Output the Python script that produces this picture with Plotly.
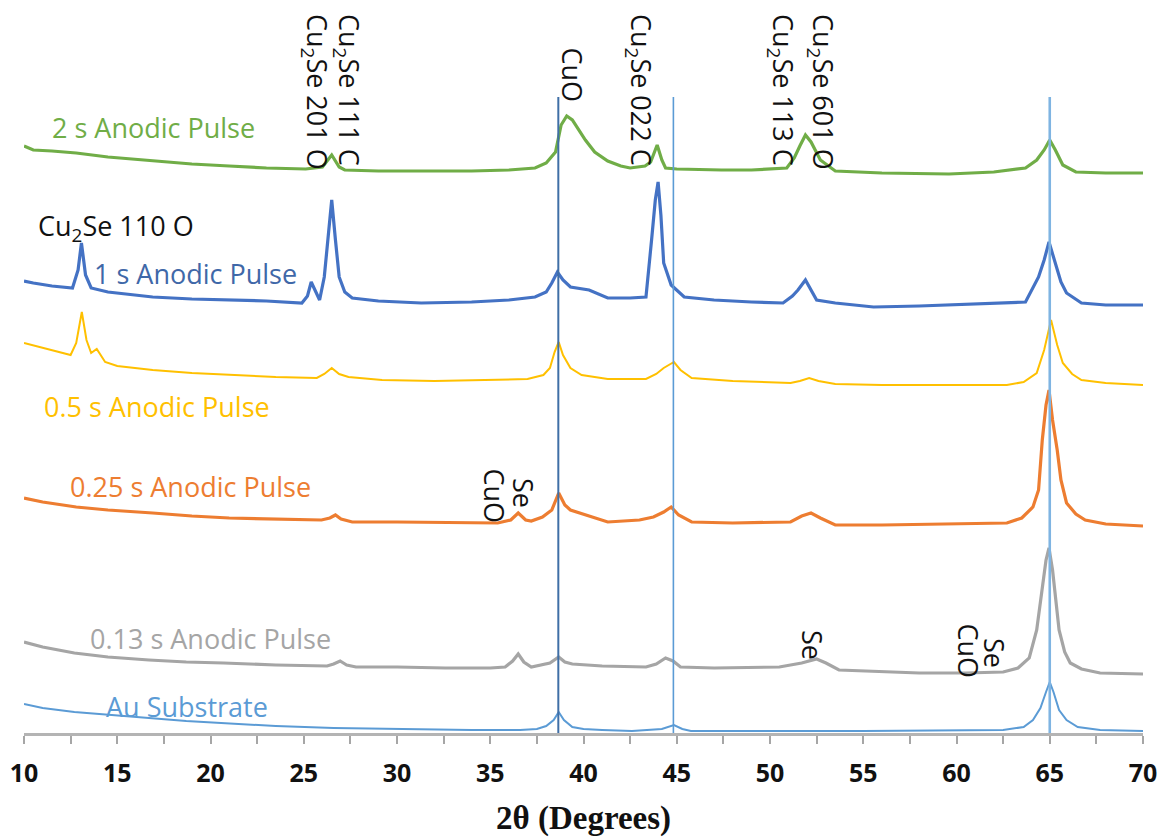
import plotly.graph_objects as go

# ---------------- data (2θ in degrees, stacked intensity in arbitrary units) ----------------
green_x = [10.0, 10.5, 11.5, 12.8, 14.5, 16.9, 19.0, 21.0, 23.0, 25.1, 26.0, 26.5, 26.9, 27.2, 29.0, 31.3,
           34.0, 36.0, 37.4, 38.0, 38.5, 38.8, 39.1, 39.4, 40.1, 40.6, 41.3, 42.0, 42.5, 43.3, 43.6, 43.95,
           44.2, 44.4, 45.0, 47.4, 49.0, 50.9, 51.3, 51.6, 51.9, 52.2, 52.7, 53.5, 56.0, 59.6, 62.0, 63.7,
           64.3, 64.7, 65.0, 65.3, 65.7, 66.4, 68.0, 70.0]
green_y = [587, 583, 582, 580, 576, 572, 569, 567, 565, 564, 566, 578, 566, 563, 562, 562,
           562, 563, 565, 570, 581, 608, 617, 613, 593, 581, 572, 567, 565, 567, 571, 588,
           573, 565, 564, 563, 563, 565, 575, 587, 598, 591, 573, 562, 560, 559, 561, 565,
           573, 583, 593, 583, 568, 561, 560, 560]

blue_x = [10.0, 10.5, 11.5, 12.6, 12.9, 13.08, 13.3, 13.6, 14.5, 16.9, 19.0, 21.0, 23.0, 24.9, 25.2, 25.4,
          25.65, 25.85, 26.1, 26.3, 26.5, 26.7, 26.9, 27.2, 27.6, 29.0, 31.3, 34.0, 36.0, 37.4, 38.0, 38.3,
          38.6, 38.9, 39.3, 40.3, 41.3, 42.5, 43.35, 43.65, 43.85, 44.0, 44.15, 44.3, 44.7, 45.4, 47.0, 49.0,
          50.7, 51.2, 51.5, 51.9, 52.2, 52.5, 53.5, 55.55, 58.0, 61.0, 63.7, 64.4, 64.7, 64.96, 65.3, 65.6,
          65.9, 66.7, 68.0, 70.0]
blue_y = [452, 450, 447, 445, 463, 490, 458, 445, 441, 436, 434, 433, 432, 430, 437, 451,
          441, 433, 456, 493, 533, 493, 456, 441, 435, 432, 430, 431, 433, 436, 441, 450,
          461, 453, 446, 443, 435, 435, 436, 493, 533, 551, 518, 470, 448, 436, 433, 431,
          430, 437, 443, 453, 443, 433, 430, 426, 427, 429, 431, 456, 473, 491, 470, 451,
          440, 430, 428, 428]

yellow_x = [10.0, 11.0, 12.0, 12.5, 12.8, 13.1, 13.35, 13.6, 13.9, 14.35, 15.0, 16.9, 19.0, 21.0, 23.5, 25.7,
            26.1, 26.5, 26.9, 27.4, 29.2, 32.0, 35.4, 37.0, 37.85, 38.2, 38.45, 38.67, 38.9, 39.3, 39.9, 41.3,
            43.35, 43.9, 44.3, 44.85, 45.2, 45.8, 48.0, 51.1, 51.6, 52.1, 52.6, 53.5, 56.0, 59.0, 62.7, 63.6,
            64.3, 64.7, 65.07, 65.4, 65.7, 66.2, 66.7, 68.0, 70.0]
yellow_y = [390, 385, 380, 378, 390, 421, 393, 380, 384, 371, 367, 363, 360, 358, 356, 355,
            359, 365, 359, 356, 353, 352, 353, 354, 358, 365, 381, 391, 378, 365, 358, 354,
            354, 359, 365, 371, 363, 355, 352, 350, 352, 355, 352, 349, 348, 348, 348, 351,
            360, 383, 413, 388, 370, 359, 353, 350, 348]

orange_x = [10.0, 11.0, 12.8, 14.5, 16.9, 19.0, 21.0, 23.5, 25.95, 26.4, 26.7, 27.0, 27.6, 30.0, 33.0, 35.4,
            36.1, 36.5, 36.9, 37.2, 37.8, 38.3, 38.67, 39.0, 39.3, 40.7, 41.3, 43.0, 43.75, 44.3, 44.7, 45.1,
            45.8, 48.0, 51.1, 51.7, 52.2, 52.7, 53.5, 56.0, 59.0, 62.7, 63.5, 64.1, 64.4, 64.6, 64.8, 64.96,
            65.15, 65.4, 65.6, 65.9, 66.4, 66.9, 68.0, 70.0]
orange_y = [235, 231, 226, 223, 220, 217, 215, 214, 213, 215, 218, 214, 211, 211, 210, 210,
            213, 220, 213, 212, 216, 223, 240, 228, 223, 215, 211, 213, 216, 221, 226, 218,
            211, 210, 211, 217, 220, 215, 208, 208, 209, 210, 215, 226, 243, 293, 328, 343,
            313, 283, 253, 230, 219, 213, 209, 207]

gray_x = [10.0, 11.0, 12.7, 14.5, 16.7, 18.7, 20.7, 23.5, 26.25, 26.6, 26.95, 27.3, 27.8, 30.0, 32.6, 35.0,
          35.8, 36.2, 36.5, 36.8, 37.2, 37.8, 38.2, 38.67, 39.0, 39.4, 41.0, 43.35, 43.9, 44.4, 44.8, 45.2,
          47.0, 50.5, 51.2, 51.7, 52.5, 53.0, 53.7, 56.0, 58.0, 60.5, 62.5, 63.3, 63.9, 64.3, 64.6, 64.8,
          64.96, 65.15, 65.5, 65.8, 66.1, 66.7, 67.7, 69.0, 70.0]
gray_y = [91, 86, 80, 76, 73, 71, 70, 68, 67, 69, 72, 68, 66, 66, 65, 65,
          66, 72, 79, 71, 66, 68, 70, 76, 71, 69, 67, 66, 69, 75, 72, 66,
          65, 66, 68, 70, 74, 70, 63, 61, 60, 60, 61, 65, 75, 103, 143, 173,
          185, 163, 103, 81, 70, 64, 60, 59, 59]

au_x = [10.0, 11.0, 12.7, 14.5, 16.7, 18.7, 20.7, 23.5, 26.6, 30.0, 34.0, 36.6, 37.5, 38.0, 38.4, 38.67,
        38.95, 39.4, 40.0, 41.0, 42.6, 44.2, 44.85, 45.3, 45.76, 48.0, 55.0, 62.5, 63.6, 64.1, 64.5, 64.8,
        65.0, 65.2, 65.5, 65.9, 66.5, 67.7, 70.0]
au_y = [29, 25, 21, 18, 15, 12, 10, 7, 5, 4, 3, 3, 4, 7, 13, 21,
        13, 6, 4, 3, 2, 4, 8, 4, 2, 2, 2, 3, 6, 13, 25, 41,
        51, 41, 23, 13, 6, 3, 2]

ref_lines_x = [38.65, 44.82, 65.0]
ref_line_top = 636
ref_line_colors = ["#3f6fa6", "#5b9bd5", "#7fb4e2"]
ref_line_widths = [2, 1.6, 2.6]

x_ticks = [10, 15, 20, 25, 30, 35, 40, 45, 50, 55, 60, 65, 70]

series = [
    ("Au Substrate", au_x, au_y, "#5b9bd5", 2),
    ("0.13 s", gray_x, gray_y, "#a5a5a5", 3.2),
    ("0.25 s", orange_x, orange_y, "#ed7d31", 3.2),
    ("0.5 s", yellow_x, yellow_y, "#ffc000", 2),
    ("1 s", blue_x, blue_y, "#4472c4", 3.2),
    ("2 s", green_x, green_y, "#70ad47", 3.2),
]

fig = go.Figure()
for name, xs, ys, col, w in series:
    fig.add_trace(go.Scatter(x=xs, y=ys, mode="lines", name=name,
                             line=dict(color=col, width=w), hoverinfo="skip"))

for xv, col, w in zip(ref_lines_x, ref_line_colors, ref_line_widths):
    fig.add_trace(go.Scatter(x=[xv, xv], y=[0, ref_line_top], mode="lines",
                             line=dict(color=col, width=w), hoverinfo="skip"))

LBL = "Open Sans"
FS = 27

def px2x(px):
    return 10 + (px - 24) / 18.65

def py2y(py):
    return 733 - py

ann = []
for text, px, py, col in [
    ("2 s Anodic Pulse", 50, 127, "#70ad47"),
    ("Cu<sub>2</sub>Se 110 O", 36, 227, "#111111"),
    ("1 s Anodic Pulse", 92, 273, "#3f68a8"),
    ("0.5 s Anodic Pulse", 42, 406, "#ffc000"),
    ("0.25 s Anodic Pulse", 68, 486, "#ed7d31"),
    ("0.13 s Anodic Pulse", 88, 638, "#a5a5a5"),
    ("Au Substrate", 104, 706, "#5b9bd5"),
]:
    ann.append(dict(x=px2x(px), y=py2y(py), xref="x", yref="y", text=text, showarrow=False,
                    xanchor="left", yanchor="middle",
                    font=dict(family=LBL, size=FS, color=col)))

for text, px, py in [
    ("Cu<sub>2</sub>Se 201 O", 316, 12),
    ("Cu<sub>2</sub>Se 111 C", 348, 12),
    ("CuO", 572, 45),
    ("Cu<sub>2</sub>Se 022 C", 640, 12),
    ("Cu<sub>2</sub>Se 113 C", 782, 12),
    ("Cu<sub>2</sub>Se 601 O", 822, 12),
    ("CuO", 494, 466),
    ("Se", 524, 476),
    ("Se", 813, 628),
    ("CuO", 968, 621),
    ("Se", 995, 636),
]:
    ann.append(dict(x=px2x(px), y=py2y(py), xref="x", yref="y", text=text, showarrow=False,
                    textangle=90, xanchor="center", yanchor="top",
                    font=dict(family=LBL, size=FS, color="#111111")))

fig.update_layout(
    width=1165, height=837,
    margin=dict(l=24, r=22, t=0, b=104),
    paper_bgcolor="white", plot_bgcolor="white",
    showlegend=False,
    annotations=ann,
    xaxis=dict(range=[10, 70], tickvals=x_ticks, ticks="outside", ticklen=8, tickwidth=1.5,
               tickcolor="#a6a6a6", showline=True, linecolor="#b4b4b4", linewidth=2.5,
               showgrid=False, zeroline=False, ticklabelstandoff=8,
               minor=dict(dtick=2.5, ticks="outside", ticklen=8, tickwidth=1.5, tickcolor="#a6a6a6",
                          showgrid=False),
               tickfont=dict(family="Open Sans", size=25, color="#111111", weight="bold"),
               title=dict(text="2θ (Degrees)", standoff=22,
                          font=dict(family="Liberation Serif", size=33, color="#111111", weight="bold"))),
    yaxis=dict(range=[0, 733], visible=False, showgrid=False, zeroline=False),
)

fig.write_html("out.html")
